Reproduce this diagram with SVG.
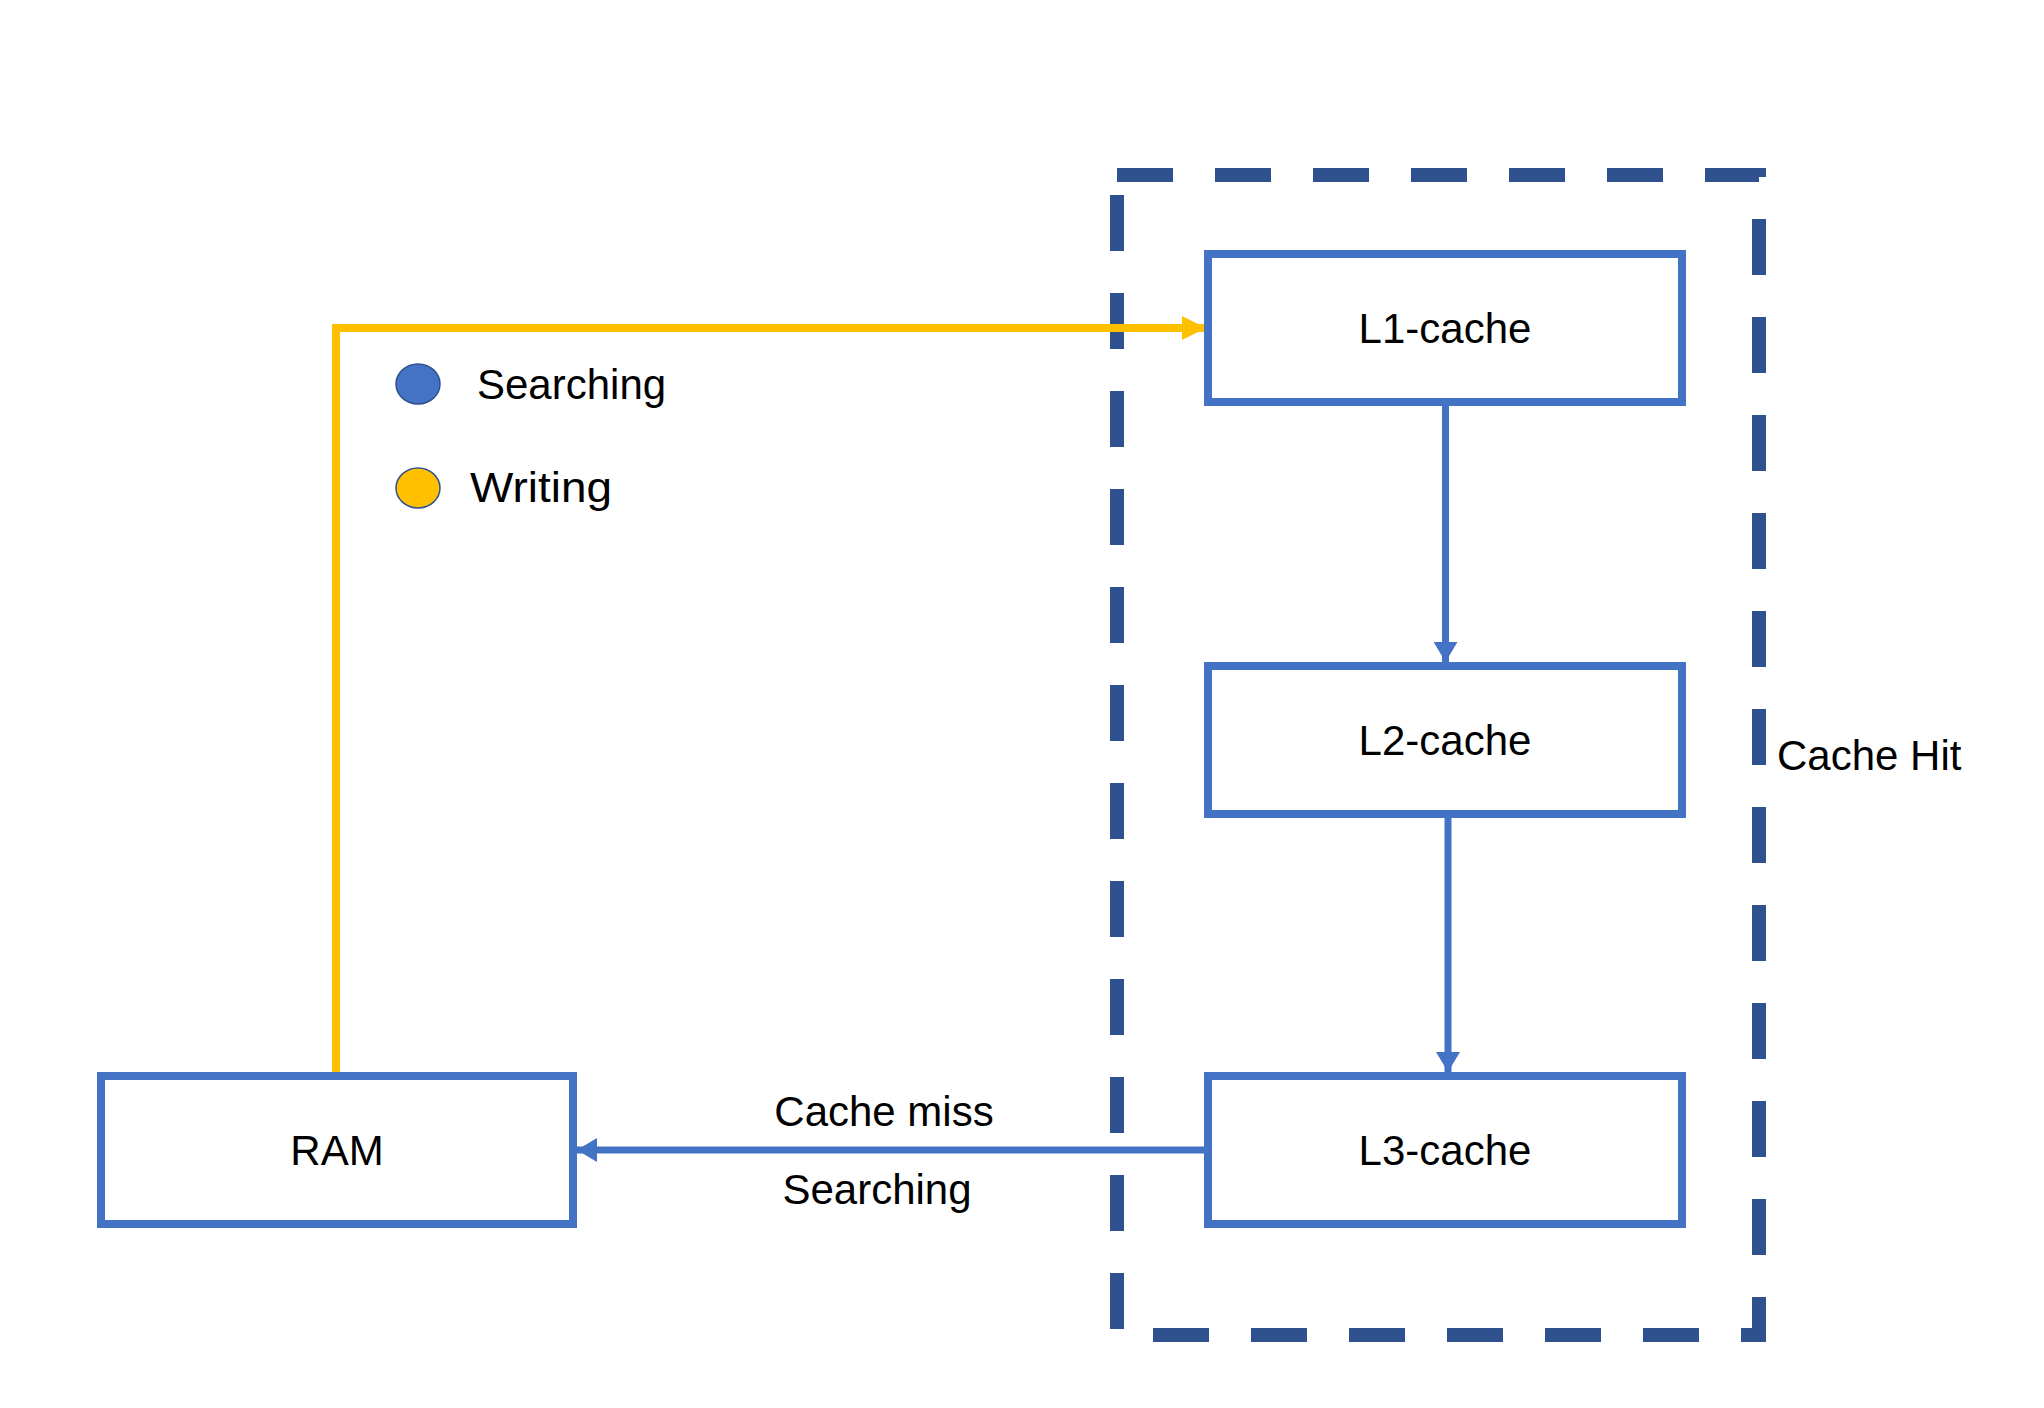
<svg xmlns="http://www.w3.org/2000/svg" width="2044" height="1408" viewBox="0 0 2044 1408">
<style>
.box{fill:#fff;stroke:#4472C4;stroke-width:8}
.lbl{font-family:"Liberation Sans",Arial,sans-serif;font-size:42px;fill:#000}
.mid{text-anchor:middle}
.blue{stroke:#4472C4;stroke-width:7;fill:none}
.yel{stroke:#FFC000;stroke-width:8;fill:none}
</style>
<defs>
<marker id="ab" markerUnits="userSpaceOnUse" viewBox="0 0 20 24" refX="20" refY="12" markerWidth="20" markerHeight="24" orient="auto">
<path d="M0,0 L20,12 L0,24 Z" fill="#4472C4"/>
</marker>
<marker id="ay" markerUnits="userSpaceOnUse" viewBox="0 0 24 24" refX="24" refY="12" markerWidth="24" markerHeight="24" orient="auto">
<path d="M0,0 L24,12 L0,24 Z" fill="#FFC000"/>
</marker>
</defs>
<rect width="2044" height="1408" fill="#fff"/>
<g id="cache-group">
<rect x="1117" y="175" width="642" height="1160" fill="none" stroke="#2F528F" stroke-width="14" stroke-dasharray="56 42"/>
<text class="lbl" x="1777" y="770">Cache Hit</text>
</g>
<g id="legend">
<ellipse cx="418" cy="384" rx="22" ry="20" fill="#4472C4" stroke="#2F528F" stroke-width="1.5"/>
<text class="lbl" x="477" y="399">Searching</text>
<ellipse cx="418" cy="488" rx="22" ry="20" fill="#FFC000" stroke="#2F528F" stroke-width="1.5"/>
<text class="lbl" x="470" y="502" textLength="142" lengthAdjust="spacingAndGlyphs">Writing</text>
</g>
<g id="connectors">
<path class="yel" d="M336,1072 V328 H1206" marker-end="url(#ay)"/>
<path class="blue" d="M1445.5,406 V662" marker-end="url(#ab)"/>
<path class="blue" d="M1448,818 V1072" marker-end="url(#ab)"/>
<path class="blue" d="M1204,1150 H577" marker-end="url(#ab)"/>
<text class="lbl mid" x="884" y="1126">Cache miss</text>
<text class="lbl mid" x="877" y="1204">Searching</text>
</g>
<g id="l1">
<rect class="box" x="1208" y="254" width="474" height="148"/>
<text class="lbl mid" x="1445" y="343">L1-cache</text>
</g>
<g id="l2">
<rect class="box" x="1208" y="666" width="474" height="148"/>
<text class="lbl mid" x="1445" y="755">L2-cache</text>
</g>
<g id="l3">
<rect class="box" x="1208" y="1076" width="474" height="148"/>
<text class="lbl mid" x="1445" y="1165">L3-cache</text>
</g>
<g id="ram">
<rect class="box" x="101" y="1076" width="472" height="148"/>
<text class="lbl mid" x="337" y="1165">RAM</text>
</g>
</svg>
